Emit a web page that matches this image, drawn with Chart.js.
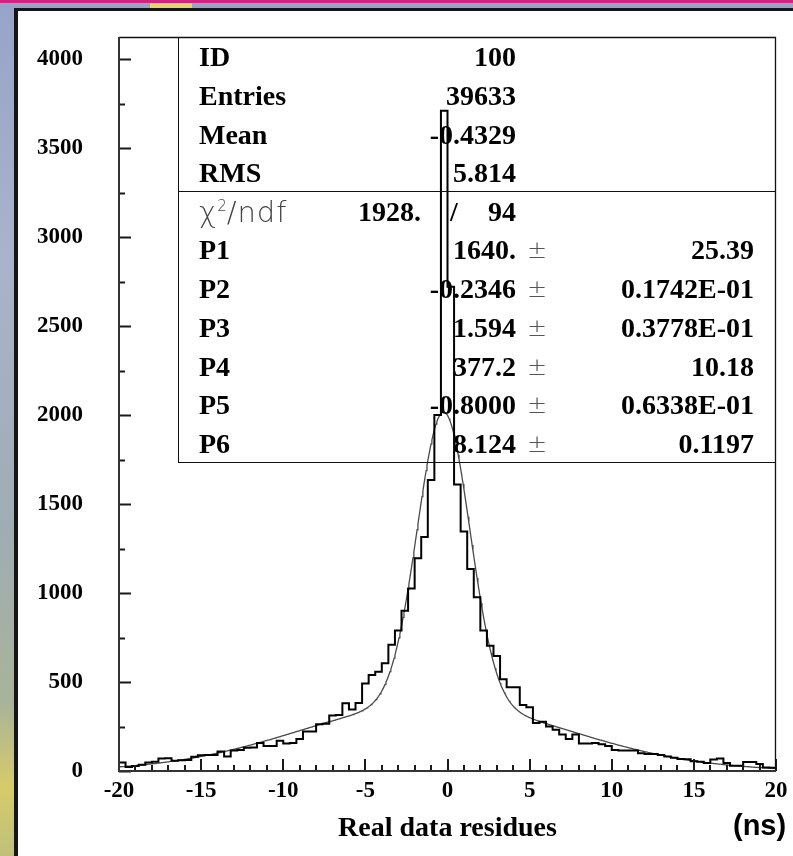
<!DOCTYPE html>
<html>
<head>
<meta charset="utf-8">
<title>Real data residues</title>
<script src="https://cdn.jsdelivr.net/npm/chart.js@4.4.1/dist/chart.umd.min.js"></script>
<style>
  html, body { margin: 0; padding: 0; }
  body {
    position: relative; width: 793px; height: 856px; overflow: hidden;
    background: linear-gradient(180deg, #97a3c9 0%, #a9b3cb 30%, #9fadb3 62%, #a9b39a 82%, #d6cb6a 92%, #bfc07a 100%);
  }
  #stripe { position: absolute; left: 0; top: 0; width: 793px; height: 3px; background: #d3237f; }
  #glow { position: absolute; left: 150px; top: 3px; width: 42px; height: 5px; background: #e6d56b; }
  #panel {
    position: absolute; left: 14px; top: 8px; width: 775px; height: 845px; background: #fff;
    border-left: 4px solid #161616; border-top: 3px solid #161616;
  }
  #chart { position: absolute; left: 0; top: 0; }
  #stats { position: absolute; left: 0; top: 0; width: 793px; height: 856px; pointer-events: none; }
  .rule { position: absolute; background: #111; }
  .t { position: absolute; white-space: nowrap; font: bold 28px/28px "Liberation Serif", "Times New Roman", serif; color: #000; }
  .thin { font: 300 29px/28px "DejaVu Sans", sans-serif; color: #444; letter-spacing: 1px; }
  .thin sup { font-size: 15px; vertical-align: 11px; line-height: 0; letter-spacing: 0; }
  .pm { font: 300 24px/28px "DejaVu Sans", sans-serif; color: #555; }
  #unit { position: absolute; left: 733px; top: 811px; font: bold 29px/29px "Liberation Sans", Arial, sans-serif; color: #000; }
</style>
</head>
<body>
<div id="stripe"></div>
<div id="glow"></div>
<div id="panel"></div>
<canvas id="chart" width="793" height="856"></canvas>
<div id="stats"></div>
<div id="unit">(ns)</div>
<script>
// Histogram of residues: 100 bins of 0.4 ns between -20 and 20 ns
const X_MIN = -20;
const X_MAX = 20;
const Y_MAX = 4124;
const binCounts = [
  48, 22, 28, 35, 48, 52, 70, 72, 58, 60,
  62, 80, 88, 90, 90, 110, 82, 115, 118, 130,
  132, 158, 140, 140, 170, 155, 158, 180, 222, 222,
  262, 265, 312, 315, 380, 346, 382, 492, 539, 558,
  606, 710, 790, 900, 1026, 1195, 1315, 1635, 2000, 3710,
  2721, 1610, 1345, 1135, 976, 790, 704, 646, 515, 470,
  470, 371, 358, 270, 277, 250, 232, 205, 180, 205,
  155, 155, 158, 150, 140, 118, 115, 115, 115, 100,
  96, 95, 90, 82, 75, 68, 66, 55, 52, 45,
  65, 70, 45, 30, 30, 50, 50, 40, 20, 18
];
const xTickLabels = [-20, -15, -10, -5, 0, 5, 10, 15, 20];
const yTickLabels = [0, 500, 1000, 1500, 2000, 2500, 3000, 3500, 4000];
const X_MINOR = 1;
const Y_MINOR = 250;

// Statistics box contents
const statNames = ['ID', 'Entries', 'Mean', 'RMS'];
const statValues = ['100', '39633', '-0.4329', '5.814'];
const chi2Value = '1928.';
const ndfValue = '94';
const paramNames = ['P1', 'P2', 'P3', 'P4', 'P5', 'P6'];
const paramValues = ['1640.', '-0.2346', '1.594', '377.2', '-0.8000', '8.124'];
const paramErrors = ['25.39', '0.1742E-01', '0.3778E-01', '10.18', '0.6338E-01', '0.1197'];

// Double gaussian fit: P1..P3 narrow core, P4..P6 wide component
const [p1, p2, p3, p4, p5, p6] = paramValues.map(Number);
function fitAt(x) {
  return p1 * Math.exp(-0.5 * ((x - p2) / p3) ** 2) + p4 * Math.exp(-0.5 * ((x - p5) / p6) ** 2);
}

const BIN_W = (X_MAX - X_MIN) / binCounts.length;
const histPoints = [{ x: X_MIN, y: 0 }];
binCounts.forEach((c, k) => {
  const lo = X_MIN + k * BIN_W;
  histPoints.push({ x: lo, y: c }, { x: lo + BIN_W, y: c });
});
histPoints.push({ x: X_MAX, y: 0 });

const FIT_STEPS = 800;
const fitPoints = [];
for (let i = 0; i <= FIT_STEPS; i++) {
  const x = X_MIN + i * (X_MAX - X_MIN) / FIT_STEPS;
  fitPoints.push({ x, y: fitAt(x) });
}

// Inside tick marks and the plot frame
const frameTicks = {
  id: 'frameTicks',
  afterDatasetsDraw(chart) {
    const { ctx, chartArea: a, scales: { x, y } } = chart;
    ctx.save();
    ctx.strokeStyle = '#1a1a1a';
    ctx.lineWidth = 2;
    ctx.beginPath();
    for (let v = X_MIN; v <= X_MAX + 1e-9; v += X_MINOR) {
      const px = Math.round(x.getPixelForValue(v));
      const len = xTickLabels.includes(Math.round(v)) ? 12 : 6;
      ctx.moveTo(px, a.bottom);
      ctx.lineTo(px, a.bottom - len);
    }
    for (let v = 0; v <= Y_MAX; v += Y_MINOR) {
      const py = Math.round(y.getPixelForValue(v)) + 0.5;
      const len = yTickLabels.includes(v) ? 12 : 6;
      ctx.moveTo(a.left, py);
      ctx.lineTo(a.left + len, py);
    }
    ctx.stroke();

    ctx.strokeStyle = '#111';
    ctx.lineWidth = 1.3;
    ctx.beginPath();
    ctx.moveTo(a.left, a.top + 0.5);
    ctx.lineTo(a.right - 0.5, a.top + 0.5);
    ctx.lineTo(a.right - 0.5, a.bottom);
    ctx.stroke();

    ctx.strokeStyle = '#333';
    ctx.lineWidth = 2;
    ctx.beginPath();
    ctx.moveTo(a.left, a.top);
    ctx.lineTo(a.left, a.bottom);
    ctx.lineTo(a.right, a.bottom);
    ctx.stroke();
    ctx.restore();
  }
};

const labelFont = { family: 'Liberation Serif', size: 23, weight: 'bold' };

new Chart(document.getElementById('chart'), {
  type: 'line',
  data: {
    datasets: [
      { data: histPoints, borderColor: '#000', borderWidth: 2, pointRadius: 0, tension: 0, fill: false },
      { data: fitPoints, borderColor: '#4a4a4a', borderWidth: 1.3, pointRadius: 0, tension: 0, fill: false }
    ]
  },
  options: {
    responsive: false,
    animation: false,
    events: [],
    layout: { padding: { top: 37, right: 17, left: 0, bottom: 0 } },
    plugins: { legend: { display: false }, tooltip: { enabled: false } },
    scales: {
      x: {
        type: 'linear', min: X_MIN, max: X_MAX, position: 'bottom',
        afterFit(s) { s.height = 85; s.paddingLeft = 0; s.paddingRight = 0; },
        afterBuildTicks(s) { s.ticks = xTickLabels.map(v => ({ value: v })); },
        grid: { display: false, drawTicks: false },
        border: { display: false },
        ticks: { padding: 6, color: '#000', font: labelFont, autoSkip: false, maxRotation: 0, callback: v => String(v) },
        title: {
          display: true, text: 'Real data residues', color: '#000',
          font: { family: 'Liberation Serif', size: 28, weight: 'bold' },
          padding: { top: 0, bottom: 10 }
        }
      },
      y: {
        type: 'linear', min: 0, max: Y_MAX, position: 'left',
        afterFit(s) { s.width = 119; s.paddingTop = 0; s.paddingBottom = 0; },
        afterBuildTicks(s) { s.ticks = yTickLabels.map(v => ({ value: v })); },
        grid: { display: false, drawTicks: false },
        border: { display: false },
        ticks: { padding: 36, color: '#000', font: labelFont, autoSkip: false, callback: v => String(v) }
      }
    }
  },
  plugins: [frameTicks]
});

// Statistics box (HBOOK style), drawn as positioned text
const BOX = { left: 178, top: 37, right: 776, bottom: 462, divider: 191 };
const COL = { label: 199, valueRight: 516, pm: 527, errRight: 754, chiRight: 421, slash: 450 };
const ROW0 = 57.3, ROW_FIT0 = 211.7, ROW_STEP = 38.7, HALF = 14;
const stats = document.getElementById('stats');

function rule(l, t, w, h) {
  const d = document.createElement('div');
  d.className = 'rule';
  Object.assign(d.style, { left: l + 'px', top: t + 'px', width: w + 'px', height: h + 'px' });
  stats.appendChild(d);
}
function text(str, cls, cy, left, right) {
  const d = document.createElement('div');
  d.className = 't' + (cls ? ' ' + cls : '');
  d.style.top = (cy - HALF) + 'px';
  if (left != null) d.style.left = left + 'px';
  if (right != null) d.style.right = (793 - right) + 'px';
  if (cls === 'thin') d.innerHTML = str; else d.textContent = str;
  stats.appendChild(d);
}

rule(BOX.left, BOX.top, 1, BOX.bottom - BOX.top + 1);
rule(BOX.left, BOX.bottom, BOX.right - BOX.left, 1);
rule(BOX.left, BOX.divider, BOX.right - BOX.left, 1);

statNames.forEach((n, i) => {
  const cy = ROW0 + i * ROW_STEP;
  text(n, '', cy, COL.label, null);
  text(statValues[i], '', cy, null, COL.valueRight);
});

text('&chi;<sup>2</sup>/ndf', 'thin', ROW_FIT0, COL.label, null);
text(chi2Value, '', ROW_FIT0, null, COL.chiRight);
text('/', '', ROW_FIT0, COL.slash, null);
text(ndfValue, '', ROW_FIT0, null, COL.valueRight);

paramNames.forEach((n, i) => {
  const cy = ROW_FIT0 + (i + 1) * ROW_STEP;
  text(n, '', cy, COL.label, null);
  text(paramValues[i], '', cy, null, COL.valueRight);
  text('\u00b1', 'pm', cy, COL.pm, null);
  text(paramErrors[i], '', cy, null, COL.errRight);
});
</script>
</body>
</html>
